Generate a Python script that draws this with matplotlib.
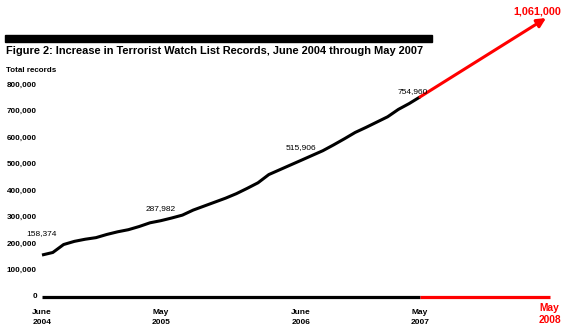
import matplotlib
matplotlib.use("Agg")
import matplotlib.pyplot as plt
from matplotlib.patches import Rectangle

plt.rcParams["font.family"] = ["Liberation Sans", "DejaVu Sans"]

# Monthly total watch list records, June 2004 (month 0) to May 2007 (month 35)
months = list(range(36))
records = [
    158374, 168000, 198000, 210000, 218000, 224000, 236000, 246000,
    254000, 266000, 280000, 287982, 298000, 309000, 328000, 343000,
    358000, 373000, 390000, 410000, 431000, 462000, 480000, 498000,
    515906, 534000, 552000, 574000, 597000, 621000, 640000, 660000,
    680000, 708000, 730000, 754960,
]

# Labelled points on the line
labelled_months = [0, 11, 24, 35]
labelled_values = [158374, 287982, 515906, 754960]

# Projection to May 2008
proj_month = 47
proj_value = 1061000

y_ticks = [0, 100000, 200000, 300000, 400000, 500000, 600000, 700000, 800000]
x_tick_months = [0, 11, 24, 35]
x_tick_labels = ["June\n2004", "May\n2005", "June\n2006", "May\n2007"]
proj_label = "May\n2008"

W, H = 567, 330
fig = plt.figure(figsize=(W / 100, H / 100), dpi=100)
ax = fig.add_axes([0, 0, 1, 1])
ax.axis("off")

# pixel layout of the plotting frame
x0_px, px_per_month = 42.0, 10.8
y0_px, px_per_100k = 297.0, 26.5
ax.set_xlim(-x0_px / px_per_month, (W - x0_px) / px_per_month)
ax.set_ylim((y0_px - H) / px_per_100k * 1e5, y0_px / px_per_100k * 1e5)

RED = "#ff0000"

# baseline
ax.plot([0, 35], [0, 0], color="black", lw=2.3, solid_capstyle="butt")
ax.plot([35, proj_month], [0, 0], color=RED, lw=2.3, solid_capstyle="butt")

# records line
ax.plot(months, records, color="black", lw=2.2, solid_capstyle="butt",
        solid_joinstyle="round")

# projection arrow
ax.annotate("", xy=(proj_month, proj_value), xytext=(35, records[-1]),
            arrowprops=dict(arrowstyle="-|>", color=RED, lw=2.2,
                            mutation_scale=13, shrinkA=0, shrinkB=3))
ax.text(proj_month - 1.1, proj_value + 18000, f"{proj_value:,}", color=RED,
        fontsize=7.8, fontweight="bold", ha="center", va="center")

# value labels
offsets = [(0, 13), (0, 6.3), (0, 6.3), (-5, 1.2)]
for m, v, off in zip(labelled_months, labelled_values, offsets):
    ax.annotate(f"{v:,}", xy=(m, v), xytext=off, textcoords="offset points",
                ha="center", va="bottom", fontsize=6)

# y tick labels
for v in y_ticks:
    ax.text(-0.48, v, f"{v:,}", ha="right", va="center", fontsize=5.9,
            fontweight="bold")

# x tick labels
for m, lab in zip(x_tick_months, x_tick_labels):
    ax.text(m, -47000, lab, ha="center", va="top", fontsize=6,
            fontweight="bold", linespacing=1.55)
ax.text(proj_month, -23000, proj_label, ha="center", va="top", fontsize=7.4,
        fontweight="bold", color=RED, linespacing=1.25)

# header bar, title and axis caption
fig.patches.append(Rectangle((5 / W, 1 - 42 / H), 427 / W, 7 / H,
                             transform=fig.transFigure, color="black"))
fig.text(6 / W, 1 - 51 / H,
         "Figure 2: Increase in Terrorist Watch List Records, June 2004 through May 2007",
         fontsize=7.95, fontweight="bold", va="center", ha="left")
fig.text(6 / W, 1 - 71 / H, "Total records", fontsize=5.8, fontweight="bold",
         va="center", ha="left")

fig.savefig("out.png", dpi=100)
